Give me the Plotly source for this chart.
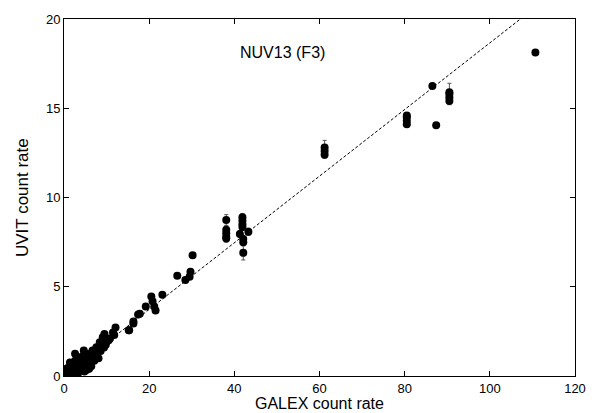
import plotly.graph_objects as go

# GALEX vs UVIT count rates
galex = [110.7, 86.5, 87.4, 80.5, 80.5, 80.5, 80.5, 90.5, 90.5, 90.5, 90.5,
         61.2, 61.2, 61.2,
         38.1, 38.1, 38.1, 38.1, 38.1, 41.9, 41.9, 41.9, 41.9, 41.3, 43.3, 42.1, 42.1, 42.1,
         30.2, 29.7, 29.5, 28.5, 26.6, 23.1, 20.5, 20.8, 21.2, 21.5, 19.2, 17.8, 16.3, 15.2,
         17.4, 16.3, 15.3, 12.1, 11.5, 9.5, 9.1, 8.4, 7.6, 6.7, 4.65, 4.9, 2.6, 3.7,
         11.8, 10.5, 10.0, 9.8, 8.9, 8.0, 7.2, 6.9, 6.2, 5.8, 5.5, 5.2, 6.0, 7.0, 5.0,
         4.4, 4.0, 3.8, 3.5, 3.2, 3.0, 2.8, 2.5, 2.2, 2.0, 1.8, 1.5, 1.3, 1.1, 0.9,
         0.7, 0.5, 0.3, 0.2, 4.2, 3.4, 2.9, 2.4, 1.9, 1.6, 1.0, 0.6, 5.6, 6.5, 7.8,
         1.2, 2.1, 3.1, 4.1, 5.1, 6.1, 7.1, 8.1, 1.6, 2.6, 3.6, 4.6, 5.4, 6.4, 3.3, 2.3,
         1.4, 4.8, 5.9, 7.5, 8.6, 9.4, 10.8, 0.4, 0.8, 1.7]
uvit = [18.13, 16.25, 14.05, 14.1, 14.3, 14.5, 14.6, 15.4, 15.6, 15.8, 15.9,
        12.4, 12.6, 12.8,
        8.74, 8.2, 8.0, 7.8, 7.7, 8.9, 8.7, 8.5, 8.35, 7.95, 8.08, 7.68, 7.5, 6.9,
        6.76, 5.84, 5.56, 5.38, 5.62, 4.55, 4.46, 4.19, 3.9, 3.67, 3.9, 3.49, 3.05, 2.57,
        3.45, 2.94, 2.57, 2.72, 2.44, 2.35, 2.17, 1.89, 1.61, 1.43, 1.43, 1.25, 1.25, 0.97,
        2.3, 2.0, 1.9, 1.75, 1.7, 1.5, 1.35, 1.2, 1.15, 1.05, 0.95, 0.9, 1.25, 1.3, 1.1,
        0.85, 0.75, 0.7, 0.62, 0.6, 0.55, 0.5, 0.48, 0.42, 0.36, 0.34, 0.28, 0.25, 0.2, 0.17,
        0.13, 0.1, 0.06, 0.04, 0.9, 0.7, 0.65, 0.45, 0.4, 0.3, 0.22, 0.15, 1.0, 1.2, 1.45,
        0.05, 0.15, 0.3, 0.45, 0.55, 0.7, 0.85, 1.0, 0.5, 0.85, 1.05, 1.15, 0.35, 0.55, 0.15, 0.3,
        0.75, 0.25, 0.4, 1.1, 1.4, 1.6, 2.1, 0.3, 0.45, 0.1]
uvit_err = [0.1, 0.1, 0.1, 0.15, 0.15, 0.15, 0.15, 0.2, 0.2, 0.2, 0.5,
            0.2, 0.2, 0.4,
            0.3, 0.2, 0.2, 0.2, 0.2, 0.2, 0.2, 0.2, 0.2, 0.2, 0.2, 0.2, 0.2, 0.4,
            0.15, 0.15, 0.15, 0.15, 0.15, 0.1, 0.1, 0.1, 0.1, 0.15, 0.1, 0.1, 0.1, 0.1,
            0.1, 0.1, 0.1, 0.1, 0.1, 0.1, 0.1, 0.1, 0.1, 0.1, 0.1, 0.1, 0.1, 0.1,
            0.1, 0.1, 0.1, 0.1, 0.1, 0.1, 0.1, 0.1, 0.1, 0.1, 0.1, 0.1, 0.1, 0.1, 0.1,
            0.1, 0.1, 0.1, 0.1, 0.1, 0.1, 0.1, 0.1, 0.1, 0.1, 0.1, 0.1, 0.1, 0.1, 0.1,
            0.1, 0.1, 0.1, 0.1, 0.1, 0.1, 0.1, 0.1, 0.1, 0.1, 0.1, 0.1, 0.1, 0.1, 0.1,
            0.1, 0.1, 0.1, 0.1, 0.1, 0.1, 0.1, 0.1, 0.1, 0.1, 0.1, 0.1, 0.1, 0.1, 0.1, 0.1,
            0.1, 0.1, 0.1, 0.1, 0.1, 0.1, 0.1, 0.1, 0.1, 0.1]

fit_slope = 0.1866
fit_x = [0, 120]
fit_y = [fit_slope * v for v in fit_x]

x_ticks = [0, 20, 40, 60, 80, 100, 120]
y_ticks = [0, 5, 10, 15, 20]

FONT = "Liberation Sans, Arial, Helvetica, sans-serif"

fig = go.Figure()
fig.add_trace(go.Scatter(x=fit_x, y=fit_y, mode="lines",
                         line=dict(color="black", width=1, dash="3px,2px"),
                         hoverinfo="skip", showlegend=False))
fig.add_trace(go.Scatter(x=galex, y=uvit, mode="markers",
                         marker=dict(color="black", size=8),
                         error_y=dict(type="data", array=uvit_err, color="#555555",
                                      thickness=1, width=2),
                         showlegend=False))

axis_common = dict(showline=True, linecolor="black", linewidth=1, mirror="ticks",
                   ticks="inside", ticklen=5, tickcolor="black", showgrid=False,
                   zeroline=False, tickfont=dict(family=FONT, size=13, color="black"))

fig.update_layout(
    width=598, height=413,
    margin=dict(l=64, r=18, t=13, b=37),
    paper_bgcolor="white", plot_bgcolor="white",
    xaxis=dict(range=[0, 120], tickvals=x_ticks, **axis_common),
    yaxis=dict(range=[0, 20], tickvals=y_ticks, **axis_common),
    annotations=[
        dict(text="NUV13 (F3)", x=0.427, y=0.906, xref="paper", yref="paper",
             yanchor="middle", showarrow=False,
             font=dict(family=FONT, size=16, color="black")),
        dict(text="GALEX count rate", x=0.5, y=0, xref="paper", yref="paper",
             yanchor="top", yshift=-17, showarrow=False,
             font=dict(family=FONT, size=16, color="black")),
        dict(text="UVIT count rate", x=0, y=0.5, xref="paper", yref="paper",
             xanchor="right", xshift=-30, textangle=-90, showarrow=False,
             font=dict(family=FONT, size=17, color="black")),
    ],
)

fig.write_html("out.html")
